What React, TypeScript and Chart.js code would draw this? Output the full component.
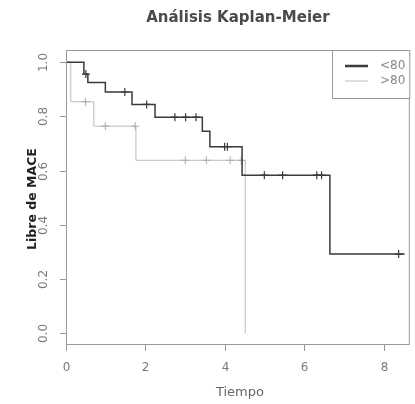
import React, { useEffect, useRef } from "react";
import { Chart, registerables } from "chart.js";

Chart.register(...registerables);

// Kaplan-Meier step data
const timesLow = [0, 0.45, 0.55, 0.99, 1.66, 2.24, 3.43, 3.62, 4.43, 6.64, 8.52];
const survLow = [1.0, 0.956, 0.925, 0.89, 0.844, 0.797, 0.745, 0.688, 0.583, 0.292, 0.292];
const censorLow = [0.5, 1.48, 2.03, 2.74, 3.01, 3.27, 3.99, 4.06, 4.99, 5.45, 6.31, 6.43, 8.37];

const timesHigh = [0, 0.12, 0.7, 1.76, 4.51];
const survHigh = [1.0, 0.854, 0.764, 0.638, 0.0];
const censorHigh = [0.49, 0.99, 1.74, 3.0, 3.53, 4.13, 4.41];

const xTicks = [0, 2, 4, 6, 8];
const yTicks = [0.0, 0.2, 0.4, 0.6, 0.8, 1.0];
const yTickLabels = ["0.0", "0.2", "0.4", "0.6", "0.8", "1.0"];
const legendLabels = ["<80", ">80"];

const titleText = "Análisis Kaplan-Meier";
const xTitle = "Tiempo";
const yTitle = "Libre de MACE";

const DARK = "#3a3a3a";
const LIGHT = "#bdbdbd";

function survAt(times: number[], surv: number[], t: number) {
  let v = surv[0];
  for (let i = 0; i < times.length; i++) if (times[i] <= t) v = surv[i];
  return v;
}

const rAxesPlugin = {
  id: "rAxes",
  afterDraw(chart: any) {
    const { ctx, chartArea, scales } = chart;
    const xs = scales.x;
    const ys = scales.y;
    ctx.save();
    // box
    ctx.strokeStyle = "#9a9a9a";
    ctx.lineWidth = 1;
    ctx.strokeRect(chartArea.left + 0.5, chartArea.top + 0.5, chartArea.right - chartArea.left - 1, chartArea.bottom - chartArea.top);
    // x ticks
    ctx.strokeStyle = "#999";
    ctx.fillStyle = "#7a7a7a";
    ctx.font = "12px 'DejaVu Sans'";
    ctx.textAlign = "center";
    ctx.textBaseline = "middle";
    xTicks.forEach((t) => {
      const px = Math.round(xs.getPixelForValue(t)) + 0.5;
      ctx.beginPath();
      ctx.moveTo(px, chartArea.bottom);
      ctx.lineTo(px, chartArea.bottom + 7);
      ctx.stroke();
      ctx.fillText(String(t), px, chartArea.bottom + 24);
    });
    // y ticks
    yTicks.forEach((t, i) => {
      const py = Math.round(ys.getPixelForValue(t)) + 0.5;
      ctx.beginPath();
      ctx.moveTo(chartArea.left - 6, py);
      ctx.lineTo(chartArea.left, py);
      ctx.stroke();
      ctx.save();
      ctx.translate(chartArea.left - 22, py);
      ctx.rotate(-Math.PI / 2);
      ctx.fillText(yTickLabels[i], 0, 0);
      ctx.restore();
    });
    // titles
    ctx.fillStyle = "#4a4a4a";
    ctx.font = "bold 15px 'DejaVu Sans'";
    const cx = (chartArea.left + chartArea.right) / 2;
    ctx.fillText(titleText, cx, 18);
    ctx.fillStyle = "#666";
    ctx.font = "13px 'DejaVu Sans'";
    ctx.fillText(xTitle, cx + 2, 393);
    ctx.save();
    ctx.fillStyle = "#222";
    ctx.font = "bold 12.5px 'DejaVu Sans'";
    ctx.translate(33, (chartArea.top + chartArea.bottom) / 2 + 2);
    ctx.rotate(-Math.PI / 2);
    ctx.fillText(yTitle, 0, 0);
    ctx.restore();
    // legend
    const lx = 332.5, ly = chartArea.top + 0.5, lw = chartArea.right - 332.5, lh = 48;
    ctx.fillStyle = "#fff";
    ctx.fillRect(lx, ly, lw, lh);
    ctx.strokeStyle = "#9a9a9a";
    ctx.strokeRect(lx, ly, lw, lh);
    const rows = [
      { y: 66, color: DARK, w: 2.5 },
      { y: 81, color: LIGHT, w: 1 },
    ];
    ctx.textAlign = "left";
    ctx.font = "12px 'DejaVu Sans'";
    rows.forEach((r, i) => {
      ctx.strokeStyle = r.color;
      ctx.lineWidth = r.w;
      ctx.beginPath();
      ctx.moveTo(345, r.y);
      ctx.lineTo(368, r.y);
      ctx.stroke();
      ctx.fillStyle = "#888";
      ctx.fillText(legendLabels[i], 380, r.y);
    });
    ctx.restore();
  },
};

export default function App() {
  const ref = useRef<HTMLCanvasElement | null>(null);
  useEffect(() => {
    if (!ref.current) return;
    const lowPts = timesLow.map((t, i) => ({ x: t, y: survLow[i] }));
    const highPts = timesHigh.map((t, i) => ({ x: t, y: survHigh[i] }));
    const lowCens = censorLow.map((t) => ({ x: t, y: survAt(timesLow, survLow, t) }));
    const highCens = censorHigh.map((t) => ({ x: t, y: survAt(timesHigh, survHigh, t) }));
    const chart = new Chart(ref.current, {
      type: "line",
      data: {
        datasets: [
          { data: lowCens, showLine: false, pointStyle: "cross", pointRadius: 4, borderColor: DARK, pointBorderWidth: 1.2, backgroundColor: DARK },
          { data: lowPts, stepped: "before", borderColor: DARK, borderWidth: 1.5, pointRadius: 0, fill: false },
          { data: highCens, showLine: false, pointStyle: "cross", pointRadius: 4, borderColor: "#aaa", pointBorderWidth: 1, backgroundColor: "#aaa" },
          { data: highPts, stepped: "before", borderColor: LIGHT, borderWidth: 1, pointRadius: 0, fill: false },
        ],
      },
      options: {
        responsive: false,
        animation: false,
        events: [],
        layout: { padding: { left: 66, top: 50, right: 2, bottom: 60 } },
        plugins: { legend: { display: false }, title: { display: false }, tooltip: { enabled: false } },
        scales: {
          x: { type: "linear", min: 0, max: 8.65, display: false },
          y: { type: "linear", min: -0.04, max: 1.045, display: false },
        },
      },
      plugins: [rAxesPlugin],
    });
    return () => chart.destroy();
  }, []);
  return (
    <div style={{ position: "fixed", left: 0, top: 0, width: 415, height: 404, background: "#fff" }}>
      <canvas ref={ref} width={415} height={404} />
    </div>
  );
}
